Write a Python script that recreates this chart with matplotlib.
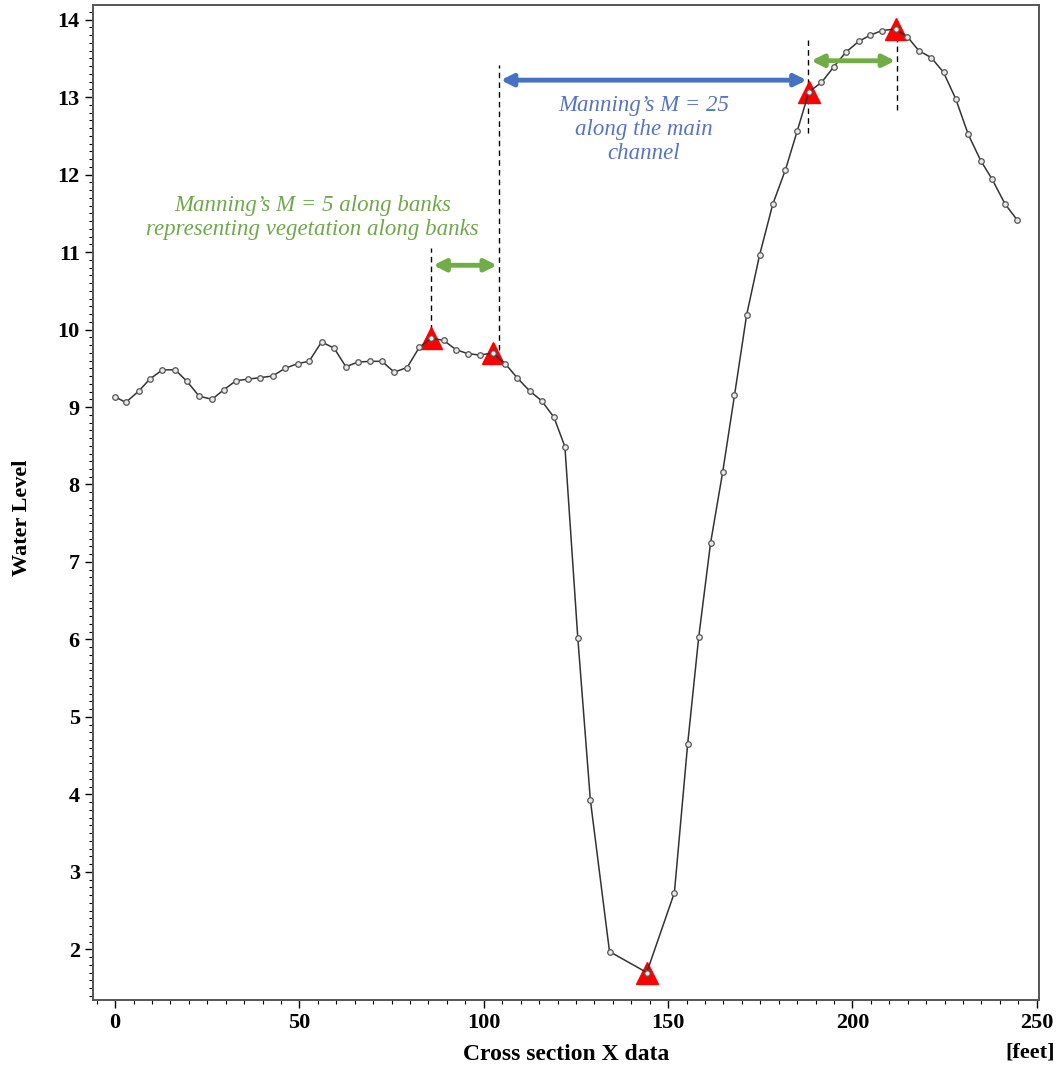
import matplotlib
matplotlib.use("Agg")
import matplotlib.pyplot as plt
from matplotlib.ticker import MultipleLocator

# ---- data ----
x_data = [0.0, 2.9, 6.5, 9.4, 12.8, 16.3, 19.5, 22.8, 26.3, 29.4, 32.8, 36.1, 39.4,
          42.7, 46.1, 49.5, 52.6, 56.0, 59.4, 62.6, 65.8, 69.1, 72.4, 75.7, 79.2,
          82.5, 85.7, 89.1, 92.5, 95.6, 99.0, 102.4, 105.8, 109.0, 112.4, 115.7,
          119.0, 122.0, 125.5, 128.9, 134.1, 144.2, 151.7, 155.3, 158.3, 161.5,
          164.8, 168.0, 171.3, 174.8, 178.4, 181.8, 185.0, 188.2, 191.6, 194.9,
          198.2, 201.7, 204.8, 208.0, 211.7, 214.9, 218.0, 221.4, 224.7, 228.0,
          231.4, 234.8, 237.9, 241.4, 244.6]
y_data = [9.13, 9.06, 9.21, 9.36, 9.48, 9.48, 9.33, 9.14, 9.10, 9.22, 9.34, 9.36, 9.38,
          9.40, 9.50, 9.56, 9.59, 9.84, 9.76, 9.52, 9.58, 9.59, 9.59, 9.45, 9.51,
          9.77, 9.89, 9.86, 9.74, 9.69, 9.67, 9.70, 9.56, 9.38, 9.21, 9.08,
          8.87, 8.49, 6.02, 3.93, 1.97, 1.70, 2.73, 4.65, 6.03, 7.24,
          8.16, 9.15, 10.19, 10.96, 11.62, 12.06, 12.56, 13.07, 13.19, 13.39,
          13.58, 13.72, 13.80, 13.86, 13.88, 13.78, 13.60, 13.51, 13.32, 12.98,
          12.52, 12.18, 11.94, 11.62, 11.42]

# roughness change points (red triangles)
tri_x = [85.7, 102.4, 144.2, 188.2, 211.7]
tri_y = [9.89, 9.70, 1.70, 13.07, 13.88]

x_ticks = [0, 50, 100, 150, 200, 250]
y_ticks = [2, 3, 4, 5, 6, 7, 8, 9, 10, 11, 12, 13, 14]

GREEN = "#70AD47"
GREEN_TXT = "#6FA84A"
BLUE = "#4472C4"
BLUE_TXT = "#5574C4"

serif = ["Liberation Serif", "DejaVu Serif"]
plt.rcParams["font.family"] = serif

fig = plt.figure(figsize=(10.6, 10.67), dpi=100)
ax = fig.add_axes([93 / 1060, 1 - 1000 / 1067, (1039 - 93) / 1060, (1000 - 5) / 1067])

ax.plot(tri_x, tri_y, linestyle="none", marker="^", markersize=16.5,
        color="#FF0000", markeredgecolor="#FF0000", zorder=3)
ax.plot(x_data, y_data, color="#333333", lw=1.1, marker="o", markersize=4,
        markerfacecolor="#e8e8e8", markeredgecolor="#555555", markeredgewidth=0.9,
        zorder=4)

# dashed boundary lines
dash_kw = dict(color="black", lw=1.0, linestyle=(0, (4, 3)), zorder=2)
ax.plot([85.8, 85.8], [9.99, 11.05], **dash_kw)
ax.plot([104.2, 104.2], [9.74, 13.42], **dash_kw)
ax.plot([188.0, 188.0], [12.54, 13.74], **dash_kw)
ax.plot([212.0, 212.0], [12.84, 13.74], **dash_kw)

# double arrows
def darrow(x0, x1, y, color):
    ax.annotate("", xy=(x1, y), xytext=(x0, y),
                arrowprops=dict(arrowstyle="<|-|>,head_length=0.7,head_width=0.35",
                                color=color, lw=3.5, shrinkA=0, shrinkB=0),
                zorder=5)

darrow(86.3, 103.6, 10.83, GREEN)
darrow(104.6, 187.6, 13.22, BLUE)
darrow(188.8, 211.6, 13.47, GREEN)

ax.text(53.5, 11.45, "Manning\u2019s M = 5 along banks\nrepresenting vegetation along banks",
        color=GREEN_TXT, fontsize=16.5, style="italic", ha="center", va="center",
        linespacing=1.2)
ax.text(143.3, 12.58, "Manning\u2019s M = 25\nalong the main\nchannel",
        color=BLUE_TXT, fontsize=16.5, style="italic", ha="center", va="center",
        linespacing=1.2)

ax.set_xlim(-6.0, 250.6)
ax.set_ylim(1.345, 14.19)
ax.set_xticks(x_ticks)
ax.set_yticks(y_ticks)
ax.xaxis.set_minor_locator(MultipleLocator(5))
ax.yaxis.set_minor_locator(MultipleLocator(0.1))
ax.tick_params(axis="both", which="major", direction="out", length=6, width=1.0,
               labelsize=16, colors="black")
ax.tick_params(axis="x", which="major", pad=3)
ax.tick_params(axis="both", which="minor", direction="out", length=3, width=0.8)
for lab in ax.get_xticklabels() + ax.get_yticklabels():
    lab.set_fontweight("bold")

for s in ax.spines.values():
    s.set_color("#555555")
    s.set_linewidth(1.4)

ax.set_xlabel("Cross section X data", fontsize=17, fontweight="bold", labelpad=8)
fig.text(22 / 1060, 1 - 518 / 1067, "Water Level", fontsize=16, fontweight="bold",
         rotation=90, ha="center", va="center")
fig.text(1030 / 1060, 1 - 1052 / 1067, "[feet]", fontsize=16, fontweight="bold",
         ha="center", va="center")

fig.savefig("out.png", dpi=100)
